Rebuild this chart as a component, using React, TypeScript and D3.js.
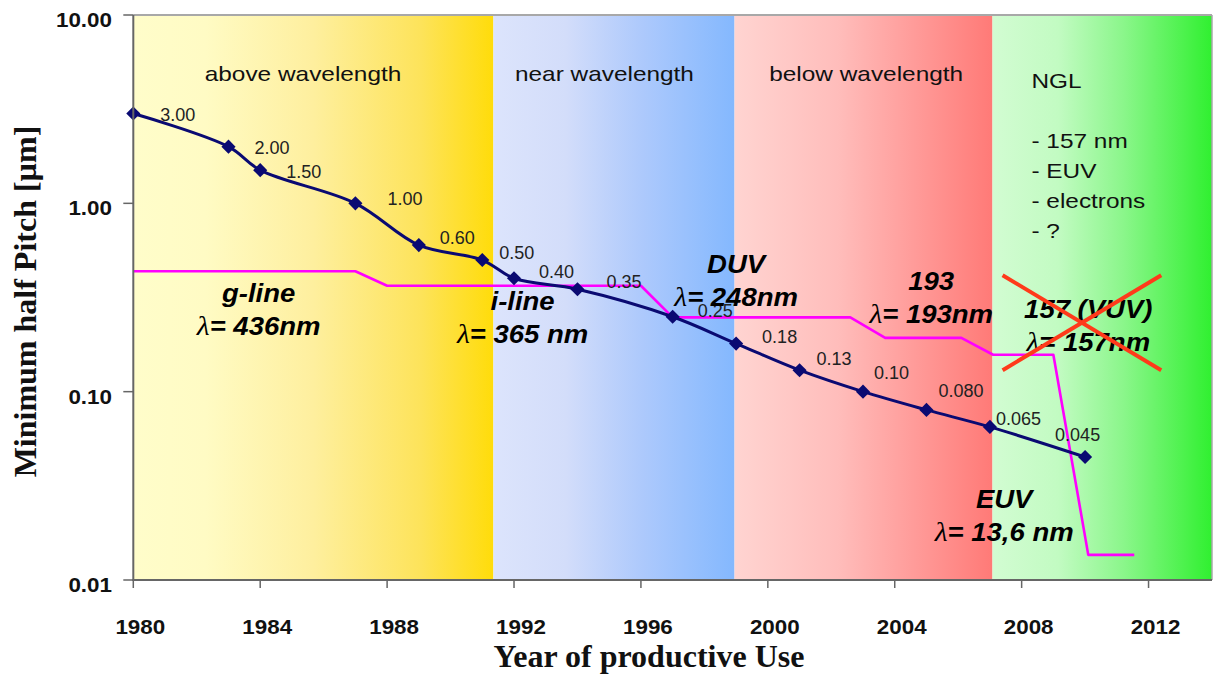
import React from 'react';
import * as d3 from 'd3';

// Canvas
const W = 1213;
const H = 675;

// Axes
const yearTicks = [1980, 1984, 1988, 1992, 1996, 2000, 2004, 2008, 2012];
const pitchTicks = [10, 1, 0.1, 0.01];
const pitchTickLabels = ['10.00', '1.00', '0.10', '0.01'];

// Roadmap: minimum half pitch (µm) per year of productive use
const nodeYears = [1980, 1983, 1984, 1987, 1989, 1991, 1992, 1994, 1997, 1999, 2001, 2003, 2005, 2007, 2010];
const nodeHalfPitch = [3.0, 2.0, 1.5, 1.0, 0.6, 0.5, 0.4, 0.35, 0.25, 0.18, 0.13, 0.1, 0.08, 0.065, 0.045];
const nodeLabels = ['3.00', '2.00', '1.50', '1.00', '0.60', '0.50', '0.40', '0.35', '0.25', '0.18', '0.13', '0.10', '0.080', '0.065', '0.045'];
// label nudges relative to the marker [dx, baseline dy]
const nodeLabelNudge: [number, number][] = [
  [27, 8], [26, 7], [26, 8], [32, 2], [21, -1], [17, -1], [25, 0], [29, -1],
  [25, 0], [26, -1], [17, -5], [11, -13], [12, -13], [6, -2], [-30, -16],
];

// Exposure wavelength (µm) in use per year — step line
const wavelengthYears = [1980, 1987, 1988, 1996, 1997, 2002.6, 2003.7, 2006.1, 2007.1, 2009, 2010.1, 2011.55];
const wavelengthMicrons = [0.436, 0.436, 0.365, 0.365, 0.248, 0.248, 0.193, 0.193, 0.157, 0.157, 0.0136, 0.0136];

// Resolution regimes (background bands)
const bandStart = [1980, 1991.35, 1998.95, 2007.08];
const bandEnd = [1991.35, 1998.95, 2007.08, 2014];
const bandTitles = ['above wavelength', 'near wavelength', 'below wavelength', 'NGL'];
const bandTitleYears = [1985.35, 1994.85, 2003.1];
const nglOptions = ['- 157 nm', '- EUV', '- electrons', '- ?'];

// Light sources
const sourceNames = ['g-line', 'i-line', 'DUV', '193', '157 (VUV)', 'EUV'];
const sourceWavelengths = ['436nm', '365 nm', '248nm', '193nm', '157nm', '13,6 nm'];
const sourceYears = [1983.95, 1992.27, 1999.0, 2005.15, 2010.1, 2007.45];
const sourceAnchorValues = [0.3, 0.2715, 0.4253, 0.3465, 0.2453, 0.0242];

// Cancelled 157 nm option (crossed out)
const crossYears = [2007.4, 2012.4];
const crossValues = [0.415, 0.13];

const bandGradients = [
  [['0', '#FFFDCA'], ['0.2', '#FFFBC4'], ['0.5', '#FEEF9E'], ['0.8', '#FDE35A'], ['1', '#FFDC0A']],
  [['0', '#DCE4FC'], ['0.3', '#D3DDFA'], ['0.6', '#AFCAFC'], ['1', '#84B8FE']],
  [['0', '#FFD4D1'], ['0.4', '#FFBDBB'], ['0.7', '#FF9B99'], ['1', '#FF7A77']],
  [['0', '#D2FCD2'], ['0.3', '#C2FBC2'], ['0.6', '#8AF68A'], ['1', '#30F030']],
];

const SANS = '"Liberation Sans", Arial, sans-serif';
const SERIF = '"Liberation Serif", "Times New Roman", serif';

function SText(props: {
  x: number; y: number; sx?: number; anchor?: string; size: number; weight?: string | number;
  italic?: boolean; family?: string; fill?: string; children: React.ReactNode;
}) {
  const { x, y, sx = 1, anchor = 'start', size, weight = 'normal', italic = false, family = SANS, fill = '#000', children } = props;
  return (
    <text
      transform={`translate(${x},${y}) scale(${sx},1)`}
      textAnchor={anchor}
      fontSize={size}
      fontWeight={weight}
      fontStyle={italic ? 'italic' : 'normal'}
      fontFamily={family}
      fill={fill}
    >
      {children}
    </text>
  );
}

export default function App() {
  const x = d3.scaleLinear().domain([1980, 2014]).range([133.3, 1212]);
  const y = d3.scaleLog().domain([0.01, 10]).range([580, 15]);
  const left = x.range()[0];
  const right = x.range()[1];
  const top = y.range()[1];
  const bottom = y.range()[0];

  const pitchLine = d3
    .line<number>()
    .x((_, i) => x(nodeYears[i]))
    .y((d) => y(d))
    .curve(d3.curveCatmullRom.alpha(0.5));

  const waveLine = d3
    .line<number>()
    .x((_, i) => x(wavelengthYears[i]))
    .y((d) => y(d));

  const diamond = d3.symbol().type(d3.symbolSquare).size(100)();

  return (
    <svg
      width={W}
      height={H}
      style={{ position: 'absolute', left: 0, top: 0, display: 'block', background: '#fff' }}
    >
      <defs>
        {bandGradients.map((stops, i) => (
          <linearGradient key={i} id={`band${i}`} x1="0" x2="1" y1="0" y2="0">
            {stops.map(([o, c]) => (
              <stop key={o} offset={o} stopColor={c} />
            ))}
          </linearGradient>
        ))}
      </defs>

      {/* regime bands */}
      {bandStart.map((s, i) => (
        <rect
          key={i}
          x={x(s)}
          y={top}
          width={x(bandEnd[i]) - x(s)}
          height={bottom - top}
          fill={`url(#band${i})`}
        />
      ))}

      {/* regime titles */}
      {bandTitleYears.map((yr, i) => (
        <SText key={i} x={x(yr)} y={81} anchor="middle" size={20} sx={1.22} fill="#111">
          {bandTitles[i]}
        </SText>
      ))}
      <SText x={x(bandStart[3]) + 39} y={88} size={20} sx={1.22} fill="#111">
        {bandTitles[3]}
      </SText>
      {nglOptions.map((t, i) => (
        <SText key={t} x={x(bandStart[3]) + 39} y={148 + i * 30} size={20} sx={1.22} fill="#111">
          {t}
        </SText>
      ))}

      {/* wavelength step line */}
      <path d={waveLine(wavelengthMicrons) || ''} fill="none" stroke="#FF00FF" strokeWidth={2.6} strokeLinejoin="round" />

      {/* half pitch line */}
      <path d={pitchLine(nodeHalfPitch) || ''} fill="none" stroke="#0A0A72" strokeWidth={3} />
      {nodeHalfPitch.map((v, i) => (
        <path
          key={i}
          d={diamond || ''}
          transform={`translate(${x(nodeYears[i])},${y(v)}) rotate(45)`}
          fill="#0A0A72"
        />
      ))}
      {nodeHalfPitch.map((v, i) => (
        <SText
          key={i}
          x={x(nodeYears[i]) + nodeLabelNudge[i][0]}
          y={y(v) + nodeLabelNudge[i][1]}
          size={18}
          sx={1.0}
          fill="#222"
        >
          {nodeLabels[i]}
        </SText>
      ))}

      {/* light source annotations */}
      {sourceNames.map((name, i) => {
        const cx = x(sourceYears[i]);
        const by = y(sourceAnchorValues[i]);
        return (
          <g key={name}>
            <SText x={cx} y={by} anchor="middle" size={25} sx={1.1} weight="bold" italic>
              {name}
            </SText>
            <text
              transform={`translate(${cx},${by + 33}) scale(1.1,1)`}
              textAnchor="middle"
              fontSize={25}
              fontFamily={SANS}
              fontWeight="bold"
              fontStyle="italic"
              fill="#000"
            >
              <tspan fontFamily={SERIF} fontWeight="normal" fontSize={27}>λ</tspan>
              {`= ${sourceWavelengths[i]}`}
            </text>
          </g>
        );
      })}

      {/* crossed-out 157 nm */}
      <line
        x1={x(crossYears[0])}
        y1={y(crossValues[0])}
        x2={x(crossYears[1])}
        y2={y(crossValues[1])}
        stroke="#FF3A1A"
        strokeWidth={4}
      />
      <line
        x1={x(crossYears[0])}
        y1={y(crossValues[1])}
        x2={x(crossYears[1])}
        y2={y(crossValues[0])}
        stroke="#FF3A1A"
        strokeWidth={4}
      />

      {/* frame */}
      <line x1={left} x2={right} y1={top} y2={top} stroke="#A8A8A8" strokeWidth={2} />
      <line x1={right} x2={right} y1={top} y2={bottom} stroke="#A8A8A8" strokeWidth={1.5} />
      <line x1={left} x2={left} y1={top} y2={bottom + 1} stroke="#666" strokeWidth={2} />
      <line x1={left - 1} x2={right} y1={bottom} y2={bottom} stroke="#666" strokeWidth={2} />

      {/* y axis */}
      {pitchTicks.map((v, i) => (
        <g key={v}>
          <line x1={left - 10} x2={left} y1={y(v)} y2={y(v)} stroke="#666" strokeWidth={1.5} />
          <SText x={112} y={y(v) + 12} anchor="end" size={20} sx={1.12} weight="bold" fill="#111">
            {pitchTickLabels[i]}
          </SText>
        </g>
      ))}

      {/* x axis */}
      {yearTicks.map((t) => (
        <g key={t}>
          <line x1={x(t)} x2={x(t)} y1={bottom} y2={bottom + 8} stroke="#666" strokeWidth={1.5} />
          <SText x={x(t) + 7} y={634} anchor="middle" size={20} sx={1.12} weight="bold" fill="#111">
            {String(t)}
          </SText>
        </g>
      ))}

      {/* axis titles */}
      <text
        transform={`translate(36,${(top + bottom) / 2 + 4}) rotate(-90)`}
        textAnchor="middle"
        fontSize={32}
        fontWeight="bold"
        fontFamily={SERIF}
        fill="#111"
      >
        Minimum half Pitch [µm]
      </text>
      <text x={649} y={667} textAnchor="middle" fontSize={32} fontWeight="bold" fontFamily={SERIF} fill="#111">
        Year of productive Use
      </text>
    </svg>
  );
}
